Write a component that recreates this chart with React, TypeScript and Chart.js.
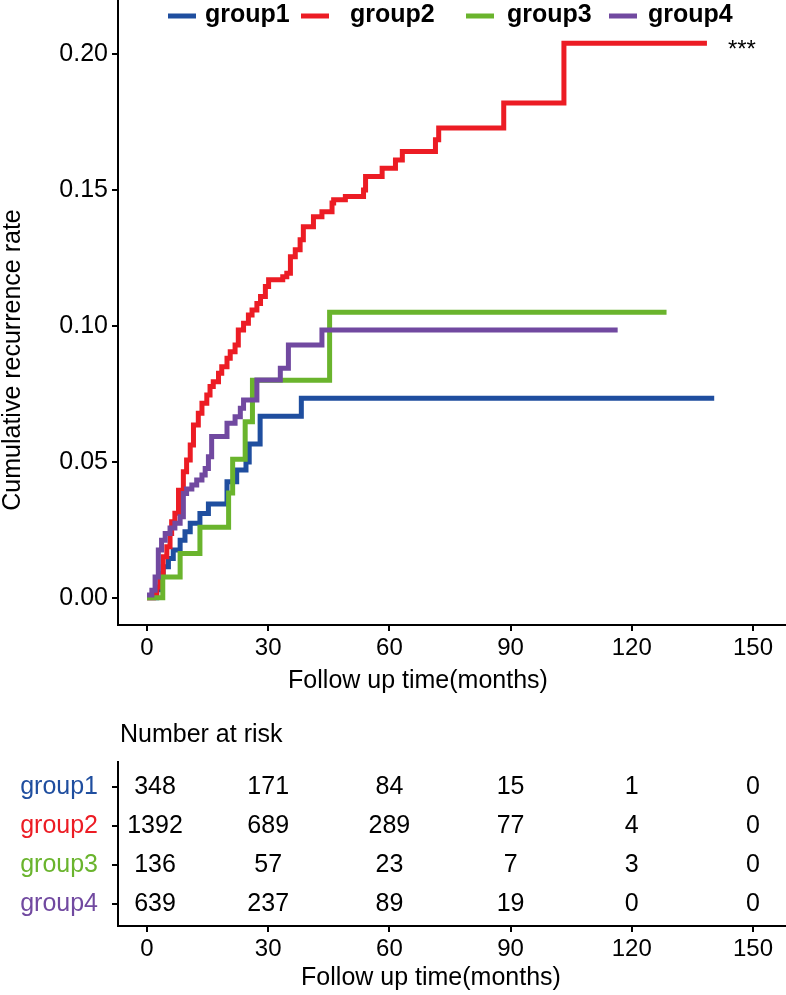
import React, { useEffect, useRef } from "react";
import { Chart, registerables } from "chart.js";

Chart.register(...registerables);

const FONT = "'Liberation Sans', Arial, Helvetica, sans-serif";

const GROUPS = ["group1", "group2", "group3", "group4"];
const COLORS = ["#1f4e9f", "#ec1c24", "#6ab42d", "#7149a0"];

// Cumulative recurrence curves (time in months, value after each step)
const G1_TIME = [0, 2.4, 3.2, 4.0, 5.3, 6.5, 8.2, 9.4, 10.7, 13.1, 15.2, 19.8, 22.2, 24.5, 25.3, 28.0, 38.2, 140.4];
const G1_RATE = [0, 0.003, 0.008, 0.0114, 0.0145, 0.0176, 0.0212, 0.0243, 0.0274, 0.031, 0.0345, 0.0427, 0.047, 0.05, 0.0566, 0.0668, 0.0734, 0.0734];

const G2_TIME = [0, 1.6, 2.4, 3.2, 4.0, 4.9, 5.7, 6.1, 6.9, 7.8, 9.0, 9.8, 10.7, 11.5, 12.7, 13.6, 14.8, 15.6, 16.4, 17.7, 18.5, 19.8, 20.6, 21.8, 22.6, 23.9, 25.1, 26.0, 27.2, 28.1, 29.3, 30.1, 33.6, 34.6, 35.5, 36.7, 37.9, 38.7, 41.2, 43.3, 45.8, 46.2, 49.1, 53.6, 54.1, 58.2, 61.5, 63.2, 71.4, 72.2, 88.3, 103.2, 138.6];
const G2_RATE = [0, 0.0016, 0.004, 0.009, 0.0151, 0.0188, 0.0237, 0.028, 0.0311, 0.0396, 0.0464, 0.0507, 0.0562, 0.0636, 0.0679, 0.0716, 0.0746, 0.0777, 0.0795, 0.0826, 0.085, 0.0881, 0.0905, 0.093, 0.0985, 0.101, 0.104, 0.1059, 0.1083, 0.1108, 0.1145, 0.117, 0.1181, 0.1194, 0.1255, 0.128, 0.1317, 0.1365, 0.1402, 0.142, 0.1452, 0.1464, 0.1476, 0.15, 0.155, 0.158, 0.161, 0.1642, 0.1685, 0.1728, 0.182, 0.204, 0.204];

const G3_TIME = [0, 3.9, 8.2, 13.1, 20.2, 21.2, 24.3, 26.1, 45.2, 128.6];
const G3_RATE = [0, 0.0077, 0.0163, 0.026, 0.0386, 0.051, 0.0648, 0.08, 0.105, 0.105];

const G4_TIME = [0, 1.2, 2.0, 2.8, 3.6, 4.5, 5.7, 6.9, 8.2, 9.0, 9.8, 11.1, 12.3, 13.6, 14.4, 15.2, 16.0, 19.8, 21.8, 23.1, 23.9, 27.2, 33.0, 35.0, 43.3, 116.5];
const G4_RATE = [0.001, 0.0028, 0.0077, 0.0176, 0.0212, 0.0237, 0.0257, 0.0274, 0.0298, 0.0384, 0.04, 0.0415, 0.0433, 0.0452, 0.0476, 0.0519, 0.0593, 0.0642, 0.0666, 0.0697, 0.0728, 0.0801, 0.0844, 0.093, 0.0985, 0.0985];

const X_TICKS = [0, 30, 60, 90, 120, 150];
const Y_TICKS = [0, 0.05, 0.1, 0.15, 0.2];

// Number at risk
const RISK_TIMES = [0, 30, 60, 90, 120, 150];
const RISK_G1 = [348, 171, 84, 15, 1, 0];
const RISK_G2 = [1392, 689, 289, 77, 4, 0];
const RISK_G3 = [136, 57, 23, 7, 3, 0];
const RISK_G4 = [639, 237, 89, 19, 0, 0];

const SIGNIF = "***";
const X_TITLE = "Follow up time(months)";
const Y_TITLE = "Cumulative recurrence rate";
const RISK_TITLE = "Number at risk";

const CURVE_TIMES = [G1_TIME, G2_TIME, G3_TIME, G4_TIME];
const CURVE_RATES = [G1_RATE, G2_RATE, G3_RATE, G4_RATE];
const RISK = [RISK_G1, RISK_G2, RISK_G3, RISK_G4];

const X_MIN = -7.18;
const X_MAX = 158.17;

export default function App() {
  const topRef = useRef<HTMLCanvasElement>(null);
  const botRef = useRef<HTMLCanvasElement>(null);

  useEffect(() => {
    if (!topRef.current || !botRef.current) return;

    const axisGrid = {
      display: true,
      drawOnChartArea: false,
      drawTicks: true,
      tickLength: 6,
      color: "#000",
      lineWidth: 2,
    };
    const axisBorder = { display: true, color: "#000", width: 2 };
    const tickFont = { family: FONT, size: 24 };

    const topPlugin = {
      id: "kmDecor",
      afterDraw(chart: any) {
        const ctx = chart.ctx;
        const sampleX = [168, 301, 466, 609];
        const textX = [205, 350, 507, 648];
        ctx.save();
        chart.data.datasets.forEach((ds: any, i: number) => {
          ctx.strokeStyle = ds.borderColor;
          ctx.lineWidth = 5;
          ctx.beginPath();
          ctx.moveTo(sampleX[i], 16);
          ctx.lineTo(sampleX[i] + 28, 16);
          ctx.stroke();
          ctx.fillStyle = "#000";
          ctx.font = `bold 25px ${FONT}`;
          ctx.textAlign = "left";
          ctx.textBaseline = "middle";
          ctx.fillText(ds.label, textX[i], 15);
        });
        // significance marker after the group2 curve end
        const meta = chart.getDatasetMeta(1);
        const last = meta.data[meta.data.length - 1];
        if (last) {
          ctx.font = `24px ${FONT}`;
          ctx.textAlign = "left";
          ctx.textBaseline = "middle";
          ctx.fillStyle = "#000";
          ctx.fillText(SIGNIF, last.x + 21, last.y + 7);
        }
        // axis titles
        const area = chart.chartArea;
        ctx.font = `25px ${FONT}`;
        ctx.textAlign = "center";
        ctx.textBaseline = "middle";
        ctx.fillText(X_TITLE, area.left + 300, area.bottom + 56);
        ctx.translate(13, area.top + 360);
        ctx.rotate(-Math.PI / 2);
        ctx.fillText(Y_TITLE, 0, 0);
        ctx.restore();
      },
    };

    const top = new Chart(topRef.current, {
      type: "line",
      data: {
        datasets: GROUPS.map((g, i) => ({
          label: g,
          data: CURVE_TIMES[i].map((t, j) => ({ x: t, y: CURVE_RATES[i][j] })),
          borderColor: COLORS[i],
          backgroundColor: COLORS[i],
          borderWidth: 5,
          pointRadius: 0,
          stepped: true,
          fill: false,
          order: 4 - i,
          borderCapStyle: "butt",
          borderJoinStyle: "miter",
        })),
      },
      options: {
        animation: false,
        responsive: false,
        events: [],
        layout: { padding: 0 },
        plugins: { legend: { display: false }, tooltip: { enabled: false } },
        scales: {
          x: {
            type: "linear",
            min: X_MIN,
            max: X_MAX,
            afterBuildTicks: (s: any) => {
              s.ticks = X_TICKS.map((v) => ({ value: v }));
            },
            afterFit: (s: any) => {
              s.height = 75;
              s.paddingLeft = 0;
              s.paddingRight = 0;
            },
            grid: axisGrid,
            border: axisBorder,
            ticks: {
              color: "#000",
              font: tickFont,
              padding: 3,
              maxRotation: 0,
              autoSkip: false,
              callback: (v: any) => String(v),
            },
          },
          y: {
            type: "linear",
            min: -0.01,
            max: 0.2199,
            afterBuildTicks: (s: any) => {
              s.ticks = Y_TICKS.map((v) => ({ value: v }));
            },
            afterFit: (s: any) => {
              s.width = 118;
              s.paddingTop = 0;
              s.paddingBottom = 0;
            },
            grid: axisGrid,
            border: axisBorder,
            ticks: {
              color: "#000",
              font: { family: FONT, size: 25 },
              padding: 4,
              autoSkip: false,
              callback: (v: any) => Number(v).toFixed(2),
            },
          },
        },
      },
      plugins: [topPlugin],
    } as any);

    const riskPlugin = {
      id: "riskText",
      afterDatasetsDraw(chart: any) {
        const ctx = chart.ctx;
        const area = chart.chartArea;
        ctx.save();
        ctx.font = `25px ${FONT}`;
        ctx.fillStyle = "#000";
        ctx.textAlign = "center";
        ctx.textBaseline = "middle";
        chart.data.datasets.forEach((ds: any, i: number) => {
          const meta = chart.getDatasetMeta(i);
          meta.data.forEach((el: any, j: number) => {
            ctx.fillText(String(RISK[i][j]), el.x + (j === 0 ? 8 : 0), el.y);
          });
        });
        ctx.textAlign = "left";
        ctx.fillText(RISK_TITLE, area.left + 2, area.top - 27);
        ctx.textAlign = "center";
        ctx.fillText(X_TITLE, area.left + 313, area.bottom + 52);
        ctx.restore();
      },
    };

    const bot = new Chart(botRef.current, {
      type: "scatter",
      data: {
        datasets: GROUPS.map((g, i) => ({
          label: g,
          data: RISK_TIMES.map((t) => ({ x: t, y: 4 - i })),
          pointRadius: 0,
          showLine: false,
        })),
      },
      options: {
        animation: false,
        responsive: false,
        events: [],
        layout: { padding: { top: 62, left: 0, right: 0, bottom: 0 } },
        plugins: { legend: { display: false }, tooltip: { enabled: false } },
        scales: {
          x: {
            type: "linear",
            min: X_MIN,
            max: X_MAX,
            afterBuildTicks: (s: any) => {
              s.ticks = RISK_TIMES.map((v) => ({ value: v }));
            },
            afterFit: (s: any) => {
              s.height = 69;
              s.paddingLeft = 0;
              s.paddingRight = 0;
            },
            grid: axisGrid,
            border: axisBorder,
            ticks: {
              color: "#000",
              font: tickFont,
              padding: 3,
              maxRotation: 0,
              autoSkip: false,
              callback: (v: any) => String(v),
            },
          },
          y: {
            type: "linear",
            min: 0.436,
            max: 4.641,
            afterBuildTicks: (s: any) => {
              s.ticks = [1, 2, 3, 4].map((v) => ({ value: v }));
            },
            afterFit: (s: any) => {
              s.width = 118;
              s.paddingTop = 0;
              s.paddingBottom = 0;
            },
            grid: axisGrid,
            border: axisBorder,
            ticks: {
              font: { family: FONT, size: 25 },
              padding: 14,
              autoSkip: false,
              color: (c: any) => COLORS[4 - (c.tick ? c.tick.value : 4)] || "#000",
              callback: (v: any) => GROUPS[4 - Number(v)],
            },
          },
        },
      },
      plugins: [riskPlugin],
    } as any);

    return () => {
      top.destroy();
      bot.destroy();
    };
  }, []);

  return (
    <div style={{ position: "absolute", left: 0, top: 0, width: 786, height: 995, background: "#fff" }}>
      <canvas
        ref={topRef}
        width={786}
        height={700}
        style={{ position: "absolute", left: 0, top: 0, width: 786, height: 700 }}
      />
      <canvas
        ref={botRef}
        width={786}
        height={295}
        style={{ position: "absolute", left: 0, top: 700, width: 786, height: 295 }}
      />
    </div>
  );
}
